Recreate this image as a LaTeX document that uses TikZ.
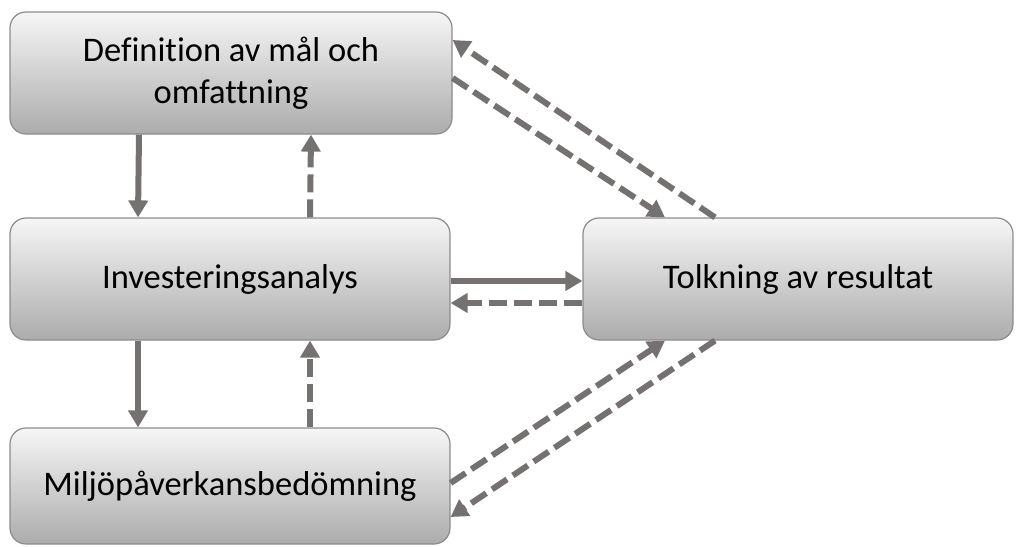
\documentclass[tikz,border=0pt]{standalone}
\usepackage{fontspec}
\setmainfont[Ligatures=CommonOff]{Carlito}
\usetikzlibrary{arrows.meta}
\definecolor{flow}{RGB}{118,113,113}
\definecolor{rim}{RGB}{140,140,140}
\definecolor{shadetop}{RGB}{246,246,246}
\definecolor{shadebot}{RGB}{172,172,172}

\begin{document}
\begin{tikzpicture}[
    x=1pt, y=-1pt,
    stage/.style={draw=rim, line width=1.2pt, rounded corners=16pt,
        top color=shadetop, bottom color=shadebot, align=center,
        font=\fontsize{34.5}{42}\selectfont, inner sep=0pt},
    flowline/.style={draw=flow, line width=6pt,
        -{Triangle[length=17pt, width=19pt]}},
    backline/.style={flowline, dash pattern=on 18pt off 7pt},
]
    \useasboundingbox (0, 0) rectangle (1016, 546);

    %% the four stages
    \node[stage, minimum width=442pt, minimum height=122pt] (goal)
        at (231, 73) {Definition av mål och\\omfattning};
    \node[stage, minimum width=440pt, minimum height=122pt] (invest)
        at (230, 279) {Investeringsanalys};
    \node[stage, minimum width=440pt, minimum height=116pt] (impact)
        at (230, 486) {Miljöpåverkansbedömning};
    \node[stage, minimum width=430pt, minimum height=122pt] (result)
        at (798, 279) {Tolkning av resultat};

    %% down the left column, and back up
    \draw[flowline] ([xshift=-92pt]goal.south) -- ([xshift=-92pt]invest.north);
    \draw[backline] ([xshift=80pt]invest.north) -- ([xshift=80pt]goal.south);
    \draw[flowline] ([xshift=-92pt]invest.south) -- ([xshift=-92pt]impact.north);
    \draw[backline] ([xshift=80pt]impact.north) -- ([xshift=80pt]invest.south);

    %% over to the interpretation, and back
    \draw[flowline] ([yshift=-2pt]invest.east) -- ([yshift=-2pt]result.west);
    \draw[backline] ([yshift=-24pt]result.west) -- ([yshift=-24pt]invest.east);
    \draw[backline] ([yshift=-5pt]goal.east) -- ([xshift=-133pt]result.north);
    \draw[backline] ([xshift=-83pt]result.north) -- ([yshift=33pt]goal.east);
    \draw[backline] ([yshift=3pt]impact.east) -- ([xshift=-133pt]result.south);
    \draw[backline] ([xshift=-83pt]result.south) -- ([yshift=-31pt]impact.east);
\end{tikzpicture}
\end{document}
